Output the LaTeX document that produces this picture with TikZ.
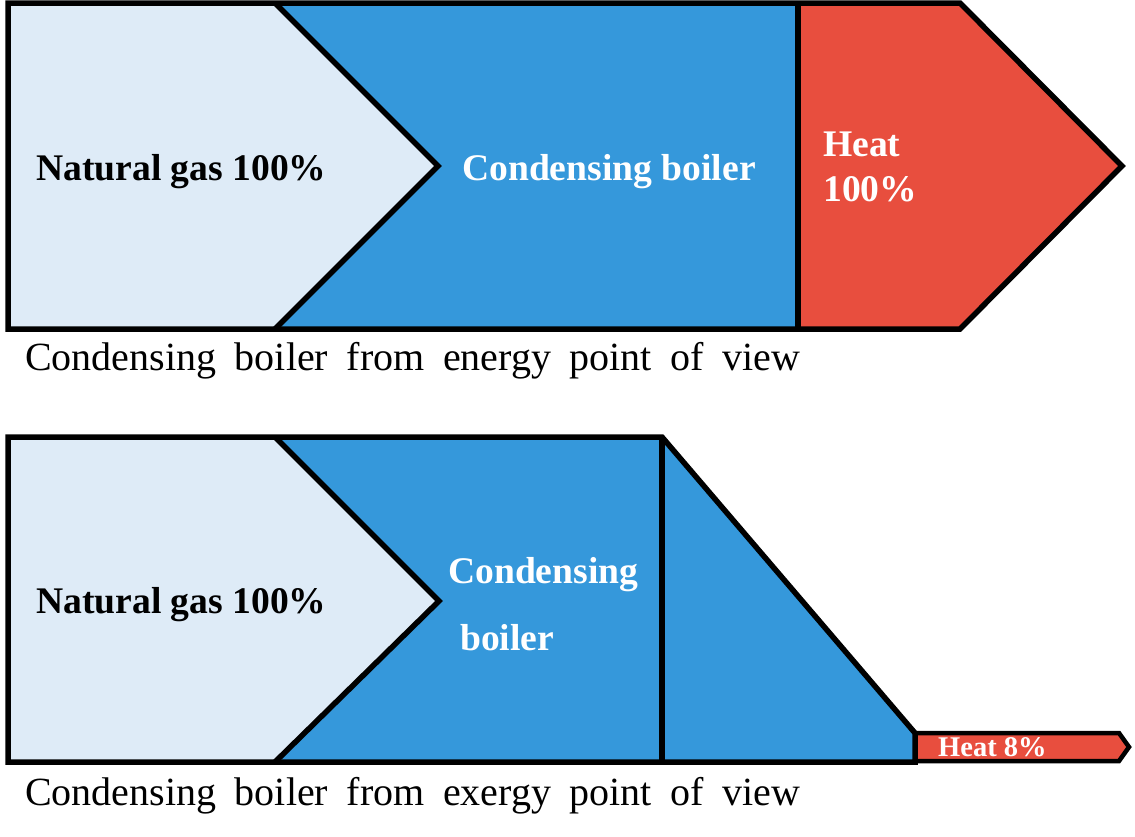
\documentclass[tikz,border=0pt]{standalone}
\usepackage{fontspec}
\setmainfont{Liberation Serif}
\definecolor{lightbl}{HTML}{DEEBF7}
\definecolor{midbl}{HTML}{3598DB}
\definecolor{heatred}{HTML}{E84E3E}
\begin{document}
\begin{tikzpicture}[x=1pt,y=-1pt,
  outl/.style={draw=black,line width=5.5pt,line join=miter},
  lbl/.style={inner sep=0pt,anchor=base west,font=\fontsize{37.6}{44}\selectfont\bfseries},
  captxt/.style={inner sep=0pt,anchor=base west,font=\fontsize{40}{48}\selectfont}]
\useasboundingbox (0,0) rectangle (1135,836);
% ---------- top diagram ----------
\fill[lightbl] (8,3) -- (275,3) -- (438,166) -- (275,329) -- (8,329) -- cycle;
\fill[midbl] (275,3) -- (798,3) -- (798,329) -- (275,329) -- (438,166) -- cycle;
\fill[heatred] (798,3) -- (960,3) -- (1122,166) -- (960,329) -- (798,329) -- cycle;
\draw[outl] (8,3) -- (960,3) -- (1122,166) -- (960,329) -- (8,329) -- cycle;
\draw[outl] (275,3) -- (438,166) -- (275,329);
\draw[outl] (798,3) -- (798,329);
\node[lbl] (gas1) at (36,180) {Natural gas 100\%};
\node[lbl,text=white] (boil1) at (462,180) {Condensing boiler};
\node[lbl,text=white] (heat1) at (823,156) {Heat};
\node[lbl,text=white] (heat1b) at (823,201) {100\%};
\node[captxt] (cap1) at (25,370) {\makebox[775pt][s]{Condensing boiler from energy point of view}};
% ---------- bottom diagram ----------
\fill[lightbl] (8,437) -- (275,437) -- (439,601) -- (275,762) -- (8,762) -- cycle;
\fill[midbl] (275,437) -- (662,437) -- (915,733) -- (915,762) -- (275,762) -- (439,601) -- cycle;
\fill[heatred] (915,733) -- (1119,733) -- (1129,747) -- (1119,761) -- (915,761) -- cycle;
\draw[outl] (8,437) -- (662,437) -- (915,733) -- (915,762) -- (8,762) -- cycle;
\draw[outl] (275,437) -- (439,601) -- (275,762);
\draw[outl] (662,437) -- (662,762);
\draw[draw=black,line width=4.5pt,line join=miter] (915,733) -- (1119,733) -- (1129,747) -- (1119,761) -- (915,761);
\node[lbl] (gas2) at (36,613) {Natural gas 100\%};
\node[lbl,text=white] (boil2a) at (448,583) {Condensing};
\node[lbl,text=white] (boil2b) at (460,650) {boiler};
\node[inner sep=0pt,anchor=base west,font=\fontsize{28.5}{32}\selectfont\bfseries,text=white] (heat2) at (938,756) {Heat 8\%};
\node[captxt] (cap2) at (25,805) {\makebox[775pt][s]{Condensing boiler from exergy point of view}};
\end{tikzpicture}
\end{document}
